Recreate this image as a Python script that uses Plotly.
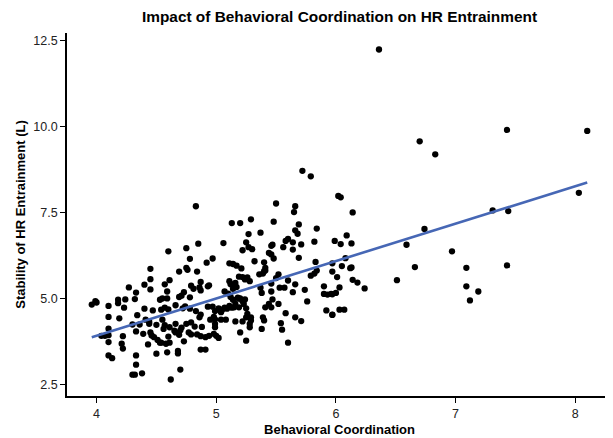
import numpy as np
import plotly.graph_objects as go

# Behavioral Coordination (x) and Stability of HR Entrainment (y)
coord = [
    6.36, 7.43, 8.10, 6.70, 6.83, 8.03, 7.31, 7.44, 6.74, 6.59, 6.97, 6.66, 7.09, 7.43, 6.51,
    7.09, 7.19, 7.12, 6.02, 6.04, 6.14, 6.09, 5.99, 6.04, 6.13, 5.97, 6.05, 6.12, 6.13, 5.97,
    6.01, 6.14, 6.18, 6.24, 6.03, 6.00, 5.97, 6.03, 6.07, 5.97,
    4.83, 4.85, 4.60, 4.75, 4.78, 4.92, 4.97, 4.45, 4.69, 4.75, 4.76, 4.84, 4.45, 4.61, 4.57,
    4.87, 4.40, 4.45, 4.27, 4.33, 4.59, 4.79, 4.81, 4.86, 4.87, 4.93, 4.94, 4.73, 4.69, 4.71,
    4.78, 4.53, 4.55, 4.59, 3.99, 4.00, 3.96, 4.18, 4.18, 4.24, 4.32, 4.10, 4.23, 4.40, 4.47,
    4.54, 4.57, 4.60, 4.66, 4.72, 4.74, 4.78, 4.83, 4.87, 4.86, 4.93, 4.97, 4.99, 5.02, 4.98,
    4.10, 4.19, 4.34, 4.30, 4.36, 4.41, 4.44, 4.44, 4.55, 4.50, 4.57, 4.56, 4.61, 4.66, 4.71,
    4.70, 4.75, 4.79, 4.82, 4.88, 4.77, 4.79, 4.10, 4.04, 4.07, 4.10, 4.33, 4.39, 4.45, 4.46,
    4.48, 4.51, 4.53, 4.54, 4.60, 4.61, 4.58, 4.65, 4.66, 4.69, 4.73, 4.84, 4.87, 4.91, 4.94,
    4.98, 5.00, 4.22, 4.21, 4.22, 4.10, 4.43, 4.87, 4.91, 4.68, 4.68, 4.59, 4.50, 4.10, 4.13,
    4.33, 4.33, 4.70, 4.30, 4.32, 4.38, 4.62,
    5.50, 5.66, 5.65, 5.13, 5.20, 5.29, 5.48, 5.69, 5.66, 5.68, 5.84, 5.37, 5.27, 5.06, 5.25,
    5.27, 5.30, 5.22, 5.46, 5.47, 5.44, 5.46, 5.48, 5.58, 5.60, 5.64, 5.64, 5.56, 5.71, 5.82,
    5.69, 5.32, 5.40, 5.41, 5.40, 5.11, 5.14, 5.17, 5.21, 5.11, 5.12, 5.14, 5.16, 5.17, 5.14,
    5.07, 5.10, 5.19, 5.22, 5.24, 5.26, 5.28, 5.36, 5.39, 5.41, 5.46, 5.50, 5.52, 5.37, 5.38,
    5.46, 5.53, 5.57, 5.60, 5.66, 5.64, 5.74, 5.79, 5.82, 5.84, 5.83, 5.76, 5.90, 5.90, 5.93,
    5.96, 6.08, 5.92, 5.97, 5.66, 5.71, 5.58, 5.54, 5.55, 5.60, 5.44, 5.46, 5.41, 5.52, 5.47,
    5.39, 5.40, 5.38, 5.29, 5.29, 5.28, 5.28, 5.23, 5.25, 5.26, 5.20, 5.22, 5.24, 5.19, 5.16,
    5.15, 5.13, 5.11, 5.09, 5.07, 5.05, 5.04, 4.99, 4.95, 5.04, 5.08, 5.16, 5.22, 5.25, 4.99,
    4.99, 5.02, 5.20, 5.25, 5.12, 5.14, 5.18, 5.19, 5.72, 5.79,
]
stability = [
    12.25, 9.91, 9.88, 9.58, 9.20, 8.08, 7.57, 7.55, 7.03, 6.57, 6.38, 5.92, 5.90, 5.97, 5.54,
    5.36, 5.21, 4.95, 7.99, 7.95, 7.51, 6.84, 6.68, 6.59, 6.61, 6.03, 5.95, 5.89, 5.91, 5.79,
    5.63, 5.55, 5.47, 5.30, 5.33, 5.17, 5.13, 4.68, 4.68, 4.53,
    7.69, 6.60, 6.38, 6.47, 6.16, 6.05, 6.17, 5.87, 5.79, 5.90, 5.84, 5.79, 5.57, 5.54, 5.42,
    5.49, 5.41, 5.27, 5.33, 5.18, 5.21, 5.38, 5.29, 5.33, 5.24, 5.36, 5.39, 5.19, 5.05, 5.09,
    5.04, 4.97, 5.01, 5.01, 4.93, 4.89, 4.83, 4.97, 4.87, 4.98, 4.99, 4.79, 4.74, 4.71, 4.66,
    4.68, 4.74, 4.69, 4.81, 4.72, 4.78, 4.71, 4.64, 4.54, 4.46, 4.77, 4.77, 4.64, 4.72, 4.47,
    4.47, 4.43, 4.52, 4.25, 4.25, 4.39, 4.27, 4.33, 4.39, 4.24, 4.23, 4.12, 4.17, 4.27, 4.16,
    4.08, 4.27, 4.31, 4.19, 4.18, 4.02, 3.96, 4.13, 3.92, 3.92, 3.94, 4.05, 3.98, 4.02, 3.93,
    3.88, 3.80, 3.72, 3.72, 3.90, 3.72, 3.69, 4.07, 4.02, 3.95, 3.76, 3.96, 3.91, 3.88, 3.92,
    3.98, 3.92, 3.91, 3.69, 3.55, 3.74, 3.67, 3.52, 3.52, 3.48, 3.41, 3.44, 3.40, 3.35, 3.27,
    3.35, 3.08, 2.94, 2.79, 2.79, 2.83, 2.65,
    7.77, 7.69, 7.52, 7.20, 7.20, 7.31, 7.24, 7.16, 6.99, 6.89, 7.04, 6.92, 6.88, 6.62, 6.64,
    6.50, 6.44, 6.41, 6.54, 6.57, 6.33, 6.29, 6.17, 6.68, 6.74, 6.64, 6.43, 6.50, 6.58, 6.66,
    6.19, 6.09, 6.06, 5.90, 5.80, 6.03, 6.01, 5.96, 5.88, 5.51, 5.42, 5.42, 5.46, 5.34, 5.29,
    5.21, 5.15, 5.64, 5.63, 5.56, 5.62, 5.51, 5.71, 5.73, 5.82, 5.44, 5.60, 5.71, 5.32, 5.17,
    5.21, 5.32, 5.32, 5.53, 5.42, 5.19, 5.26, 5.67, 5.73, 5.82, 6.07, 4.92, 5.36, 5.14, 5.12,
    5.14, 6.18, 4.66, 4.54, 4.46, 4.35, 4.58, 4.29, 4.10, 3.72, 4.85, 4.75, 4.75, 4.85, 4.98,
    4.46, 4.37, 4.12, 4.46, 4.37, 4.27, 4.17, 4.85, 4.72, 4.56, 5.01, 4.93, 4.98, 4.75, 4.85,
    4.75, 4.74, 4.79, 4.71, 4.74, 4.68, 4.61, 4.40, 4.39, 4.39, 4.39, 4.34, 4.34, 4.46, 4.27,
    4.17, 3.86, 4.02, 3.78, 5.05, 4.97, 5.03, 5.00, 8.72, 8.56,
]

x_ticks = [4, 5, 6, 7, 8]
y_ticks = [2.5, 5.0, 7.5, 10.0, 12.5]

x = np.array(coord)
y = np.array(stability)
slope, intercept = np.polyfit(x, y, 1)
fit_x = np.array([x.min(), x.max()])
fit_y = intercept + slope * fit_x

fig = go.Figure()
fig.add_trace(go.Scatter(
    x=coord, y=stability, mode="markers",
    marker=dict(color="black", size=6.3, line=dict(width=0)),
    showlegend=False, hoverinfo="skip",
))
fig.add_trace(go.Scatter(
    x=fit_x, y=fit_y, mode="lines",
    line=dict(color="#4667B5", width=2.6),
    showlegend=False, hoverinfo="skip",
))

xr = x.max() - x.min()
yr = y.max() - y.min()
font_family = "Liberation Sans, Arial, Helvetica, sans-serif"

W, H = 605, 430
L, R, T, B = 59, 1, 25, 42

fig.update_layout(
    width=W, height=H,
    margin=dict(l=L, r=R, t=T, b=B, autoexpand=False),
    paper_bgcolor="white", plot_bgcolor="white",
    font=dict(family=font_family, color="black", size=12),
    title=dict(
        text="<b>Impact of Behavioral Coordination on HR Entrainment</b>",
        x=(L + (W - R)) / 2 / W, xanchor="center",
        y=1 - 8.8 / H, yanchor="middle",
        font=dict(size=15.4, family=font_family, color="black"),
    ),
    xaxis=dict(
        range=[x.min() - 0.05 * xr, x.max() + 0.05 * xr],
        tickvals=x_ticks, ticktext=[str(v) for v in x_ticks],
        showgrid=False, zeroline=False,
        showline=True, linecolor="black", linewidth=1.6,
        ticks="outside", ticklen=5, tickwidth=1.2, tickcolor="black",
        tickfont=dict(size=12.5, color="#222222"),
        title=dict(text="<b>Behavioral Coordination</b>", font=dict(size=13), standoff=5),
    ),
    yaxis=dict(
        range=[y.min() - 0.05 * yr, y.max() + 0.05 * yr],
        tickvals=y_ticks, ticktext=[f"{v:.1f}" for v in y_ticks],
        showgrid=False, zeroline=False,
        showline=True, linecolor="black", linewidth=1.6,
        ticks="outside", ticklen=5, tickwidth=1.2, tickcolor="black",
        tickfont=dict(size=12.5, color="#222222"),
        title=dict(text="<b>Stability of HR Entrainment (L)</b>", font=dict(size=13), standoff=5),
    ),
)

fig.write_html("out.html")
